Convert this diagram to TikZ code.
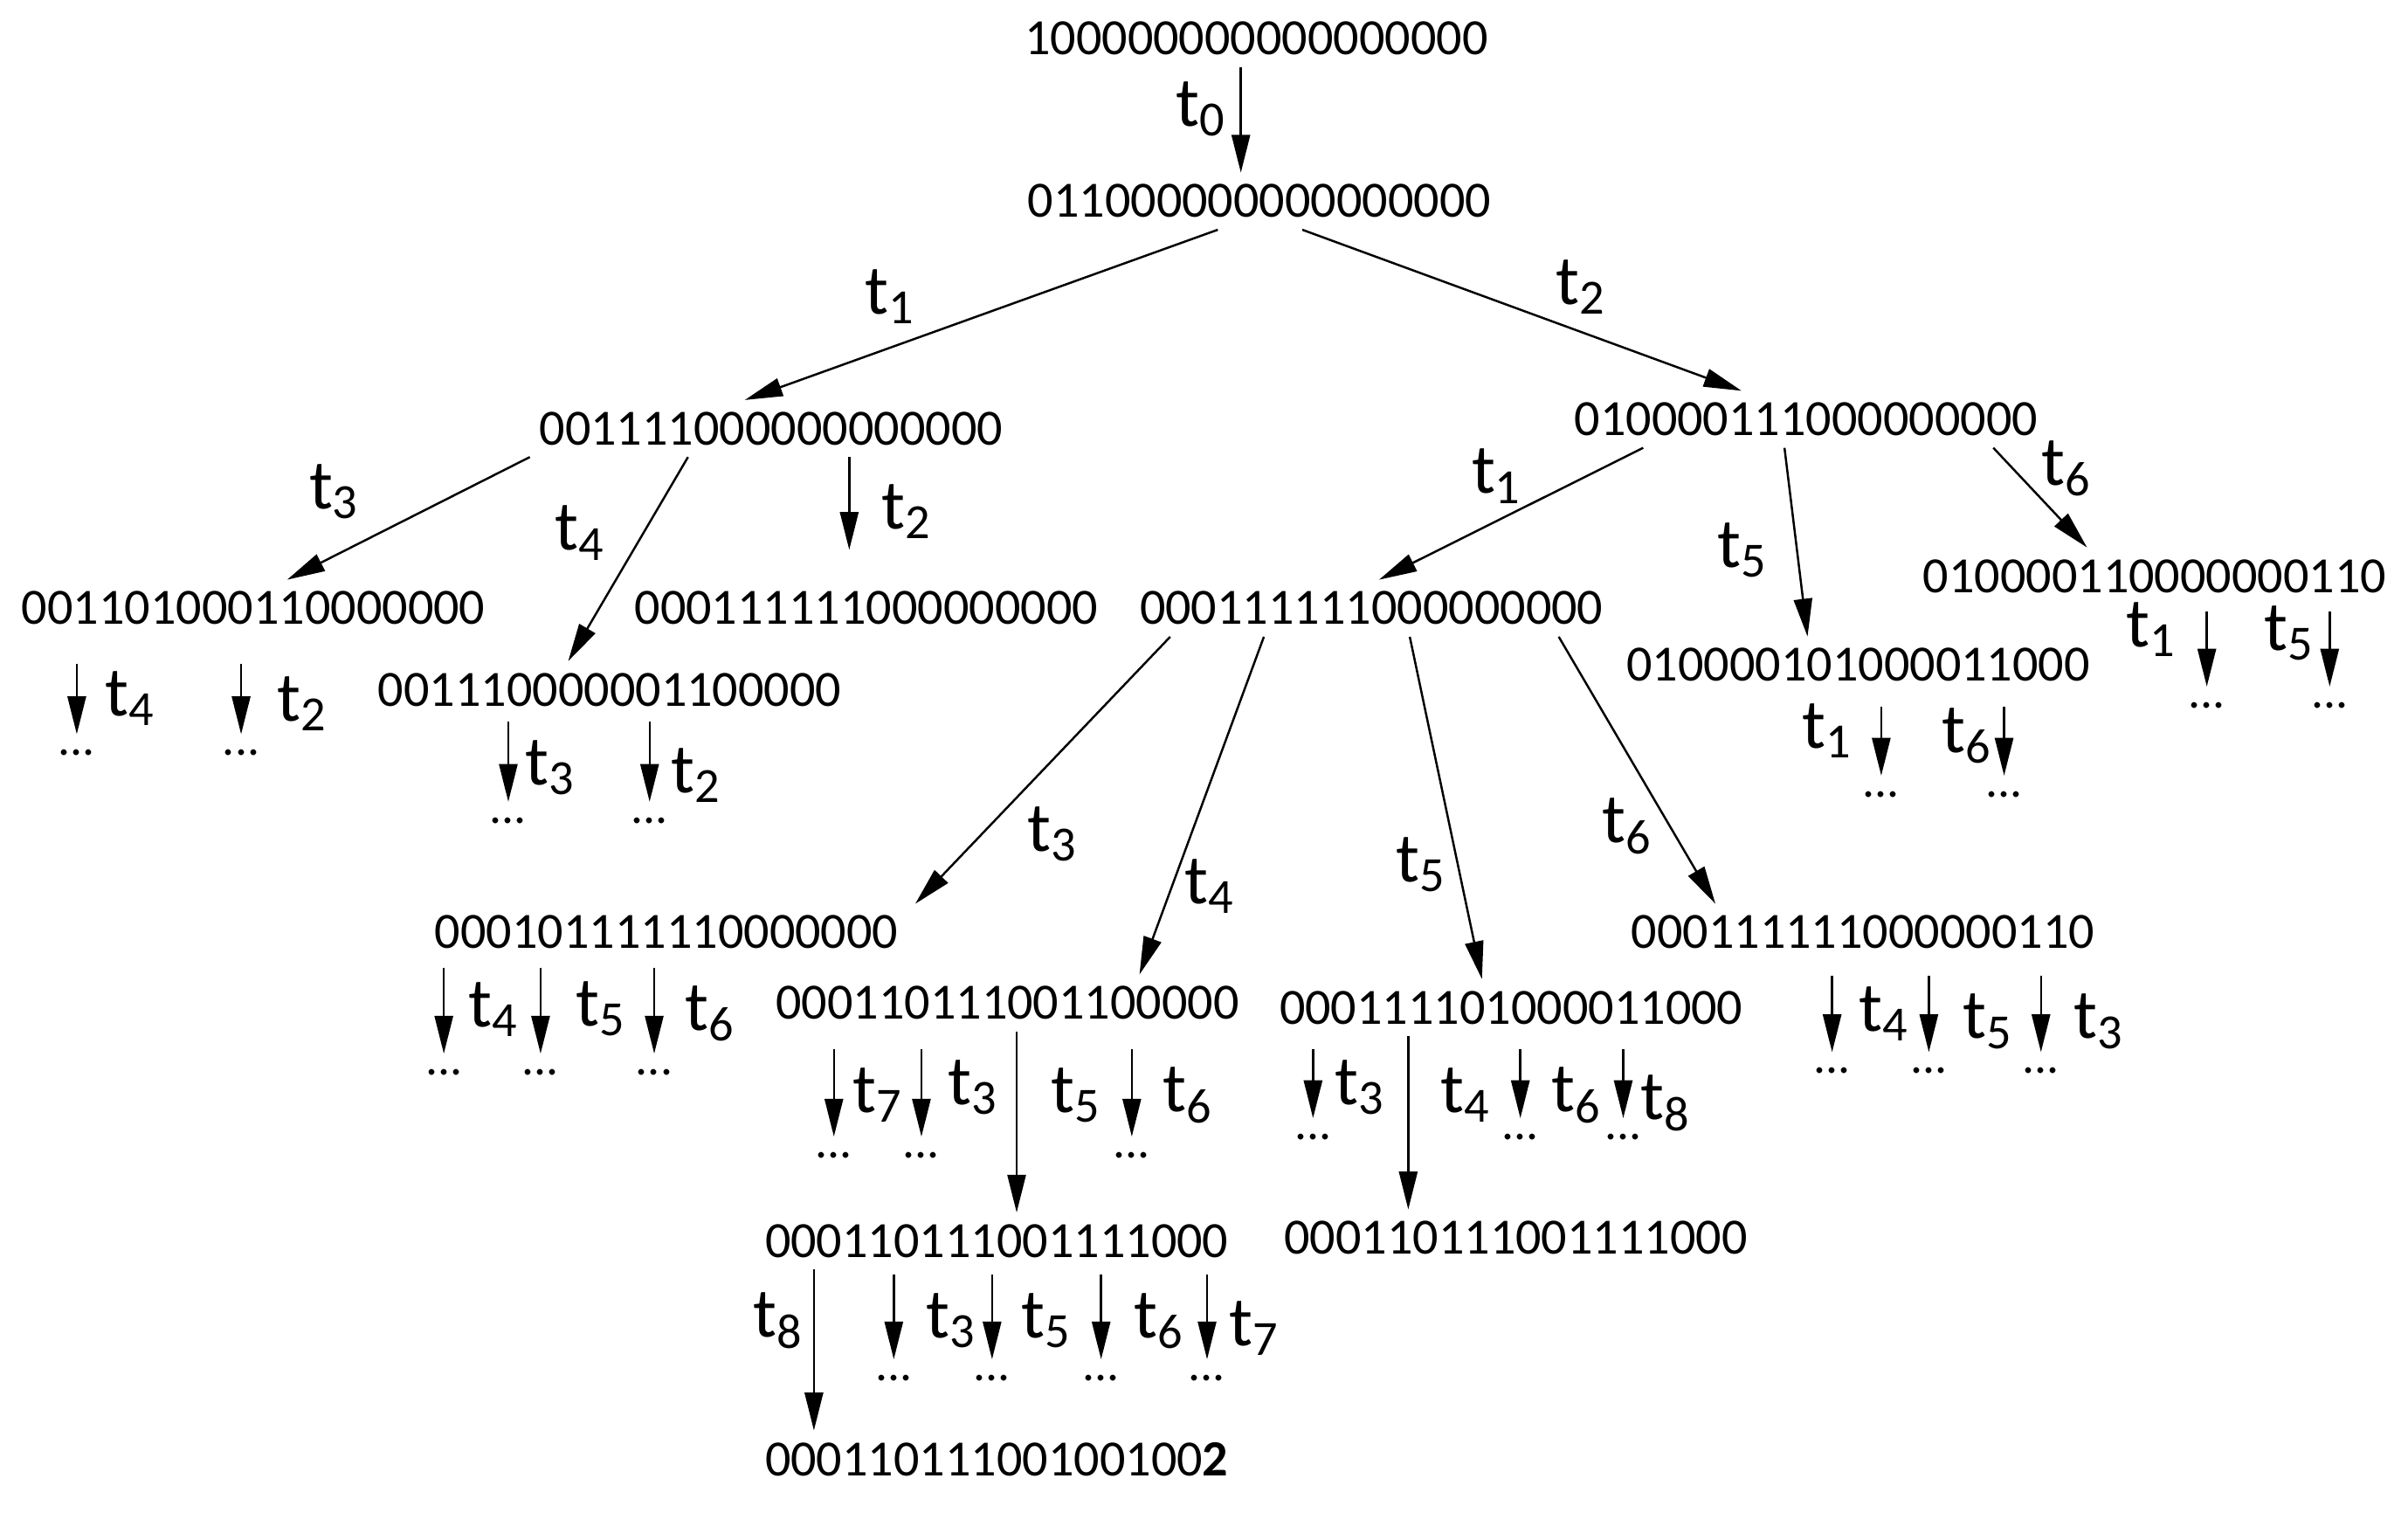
\documentclass[tikz,border=0pt]{standalone}
\usepackage{fontspec}
\setmainfont{Carlito}
\usetikzlibrary{positioning,calc,arrows.meta}
\newcommand*{\tl}[1]{{\fontsize{13}{15}\selectfont t\textsubscript{#1}}}
\newcommand*{\ds}{{\fontsize{9}{10}\selectfont ...}}
\begin{document}
\begin{tikzpicture}[x=0.01cm,y=-0.01cm,
  st/.style={inner sep=2pt,font=\fontsize{9.4}{11}\selectfont},
  arr/.style={-{Triangle[length=7pt,width=3.4pt]},thin},
  dt/.style={anchor=north,inner sep=1pt}]
\useasboundingbox (0,0) rectangle (1568,985);
% States
\node[st] (r) at (818,25) {100000000000000000};
\node[st] (a) at (820,131) {011000000000000000};
\node[st] (b) at (502,279) {001111000000000000};
\node[st] (c) at (1176,273) {010000111000000000};
\node[st] (d) at (165,396) {001101000110000000};
\node[st] (e) at (397,449) {001110000001100000};
\node[st] (f) at (564,396) {000111111000000000};
\node[st] (g) at (893,396) {000111111000000000};
\node[st] (h) at (1210,433) {010000101000011000};
\node[st] (i) at (1403,375) {010000110000000110};
\node[st] (j) at (434,607) {000101111110000000};
\node[st] (k) at (656,653) {000110111001100000};
\node[st] (l) at (984,656) {000111101000011000};
\node[st] (m) at (1213,607) {000111111000000110};
\node[st] (n) at (649,808) {000110111001111000};
\node[st] (o) at (987,806) {000110111001111000};
\node[st] (p) at (649,950) {00011011100100100\textbf{2}};
% Transitions between states
\draw[arr] (r.south -| 808,0) -- (a.north -| 808,0) node[pos=.4,left=-1pt] {\tl{0}};
\draw[arr] (a.south -| 793,0) -- (b.north -| 485,0);
\draw[arr] (a.south -| 848,0) -- (c.north -| 1134,0);
\draw[arr] (b.south -| 345,0) -- (d.north -| 187,0);
\draw[arr] (b.south -| 448,0) -- (e.north -| 370,0);
\draw[arr] (b.south -| 553,0) -- (553,358);
\draw[arr] (c.south -| 1070,0) -- (g.north -| 898,0);
\draw[arr] (c.south -| 1162,0) -- (h.north -| 1177,0);
\draw[arr] (c.south -| 1298,0) -- (i.north -| 1359,0);
\draw[arr] (g.south -| 762,0) -- (j.north -| 596,0);
\draw[arr] (g.south -| 823,0) -- (k.north -| 742,0);
\draw[arr] (g.south -| 918,0) -- (l.north -| 965,0);
\draw[arr] (g.south -| 1015,0) -- (m.north -| 1117,0);
\draw[arr] (k.south -| 662,0) -- (n.north -| 662,0);
\draw[arr] (l.south -| 917,0) -- (o.north -| 917,0);
\draw[arr] (n.south -| 530,0) -- (p.north -| 530,0);
% Labels of the transitions
\node at (580,193) {\tl{1}};
\node at (1030,187) {\tl{2}};
\node at (218,320) {\tl{3}};
\node at (378,347) {\tl{4}};
\node at (591,333) {\tl{2}};
\node at (975,310) {\tl{1}};
\node at (1135,358) {\tl{5}};
\node at (1346,305) {\tl{6}};
\node at (686,543) {\tl{3}};
\node at (788,577) {\tl{4}};
\node at (926,563) {\tl{5}};
\node at (1060,538) {\tl{6}};
\node at (507,860) {\tl{8}};
% Open branches
\foreach \x/\ya/\yb/\nm in {50/432/478/d1, 157/432/478/d2, 331/470/522/e1, 423/470/522/e2,
    1225/460/505/h1, 1305/460/505/h2, 1437/398/447/i1, 1517/398/447/i2,
    289/630/686/j1, 352/630/686/j2, 426/630/686/j3,
    543/683/740/k1, 600/683/740/k2, 737/683/740/k3,
    855/683/728/l1, 990/683/728/l2, 1057/683/728/l3,
    1193/635/685/m1, 1256/635/685/m2, 1329/635/685/m3,
    582/830/885/n1, 646/830/885/n2, 717/830/885/n3, 786/830/885/n4} {
  \coordinate (\nm s) at (\x,\ya);
  \node[dt] (\nm) at (\x,\yb+6) {\ds};
  \draw[arr] (\nm s) -- (\x,\yb);
}
\foreach \x/\y/\t in {85/455/4, 197/458/2, 359/500/3, 454/505/2,
    1190/476/1, 1281/479/6, 1401/410/1, 1491/412/5,
    322/657/4, 392/657/5, 463/660/6,
    572/713/7, 634/708/3, 701/713/5, 774/713/6,
    886/708/3, 955/713/4, 1027/713/6, 1085/718/8,
    1227/660/4, 1295/665/5, 1367/665/3,
    620/860/3, 682/860/5, 755/860/6, 817/865/7}
  \node at (\x,\y) {\tl{\t}};
\end{tikzpicture}
\end{document}
